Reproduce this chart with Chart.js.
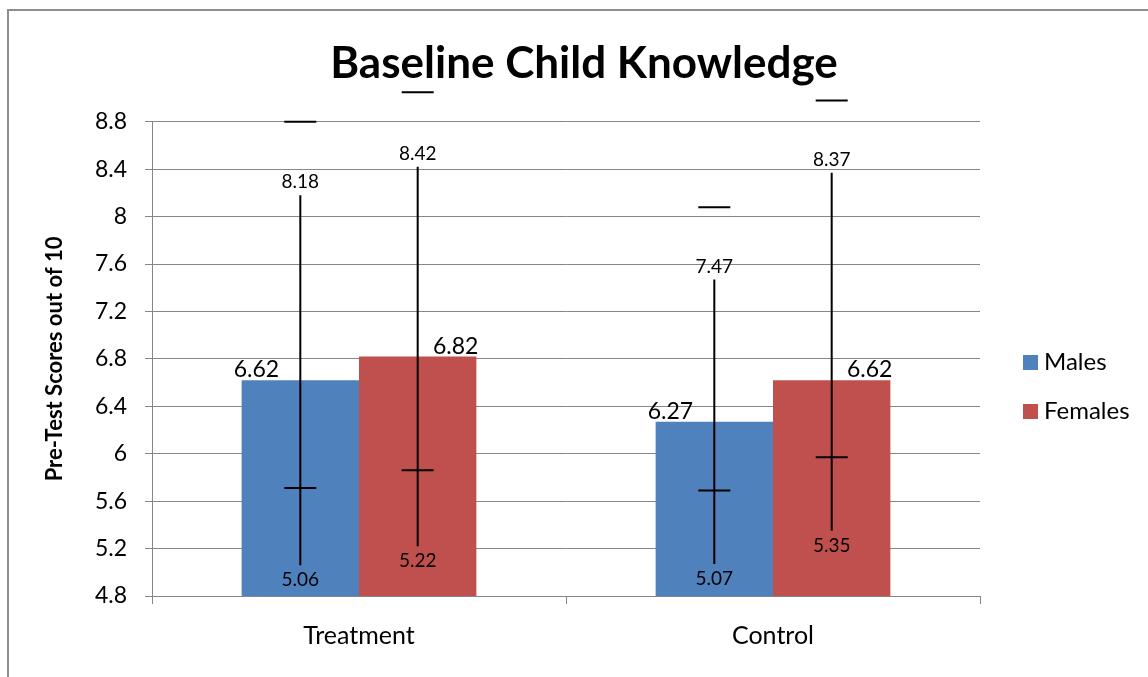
<!DOCTYPE html>
<html>
<head>
<meta charset="utf-8">
<title>Baseline Child Knowledge</title>
<script src="https://cdn.jsdelivr.net/npm/chart.js@4.4.1/dist/chart.umd.min.js"></script>
<style>
    html, body { margin: 0; padding: 0; background: #fff; overflow: hidden; }
    #frame {
        position: absolute; left: 7px; top: 9px; width: 1300px; height: 800px;
        border-left: 2px solid #8e8e8e; border-top: 2px solid #8e8e8e;
    }
    #wrap { position: absolute; left: 0; top: 0; width: 1168px; height: 700px; }
</style>
</head>
<body>
<div id="frame"></div>
<div id="wrap"><canvas id="chart"></canvas></div>
<script>
// Data
const categories = ['Treatment', 'Control'];
const seriesNames = ['Males', 'Females'];
const seriesColors = ['#4F81BD', '#C0504D'];

const maleMeans = [6.62, 6.27];
const femaleMeans = [6.82, 6.62];

// high / low range lines with their labels
const maleHigh = [8.18, 7.47];
const femaleHigh = [8.42, 8.37];
const maleLow = [5.06, 5.07];
const femaleLow = [5.22, 5.35];

// short horizontal marks (top dash and cross tick)
const maleCap = [8.8, 8.08];
const femaleCap = [9.05, 8.98];
const maleMid = [5.71, 5.69];
const femaleMid = [5.86, 5.97];

const yTicks = { min: 4.8, max: 8.8, step: 0.4 };

const FONT = 'Lato, "Open Sans", sans-serif';
const GRID = '#868686';

const ranges = [
    { high: maleHigh, low: maleLow, cap: maleCap, mid: maleMid },
    { high: femaleHigh, low: femaleLow, cap: femaleCap, mid: femaleMid }
];

/**
 * Range lines, value labels and legend
 */
const extrasPlugin = {
    id: 'extras',
    afterDatasetsDraw(chart) {
        const ctx = chart.ctx;
        const y = chart.scales.y;
        ctx.save();
        chart.data.datasets.forEach((ds, i) => {
            const meta = chart.getDatasetMeta(i);
            const r = ranges[i];
            meta.data.forEach((bar, j) => {
                const x = bar.x;
                const yHigh = y.getPixelForValue(r.high[j]);
                const yLow = y.getPixelForValue(r.low[j]);
                const yCap = y.getPixelForValue(r.cap[j]);
                const yMid = y.getPixelForValue(r.mid[j]);

                ctx.strokeStyle = '#000';
                ctx.lineWidth = 2;
                ctx.beginPath();
                ctx.moveTo(x, yHigh);
                ctx.lineTo(x, yLow);
                ctx.moveTo(x - 16, yCap);
                ctx.lineTo(x + 16, yCap);
                ctx.moveTo(x - 16, yMid);
                ctx.lineTo(x + 16, yMid);
                ctx.stroke();

                ctx.fillStyle = '#000';
                ctx.font = '19px ' + FONT;
                ctx.textAlign = 'center';
                ctx.textBaseline = 'middle';
                ctx.fillText(r.high[j].toFixed(2), x, yHigh - 13);
                ctx.fillText(r.low[j].toFixed(2), x, yLow + 15);

                // mean label above the bar
                ctx.font = '23px ' + FONT;
                ctx.textBaseline = 'alphabetic';
                const value = ds.data[j];
                if (i === 0) {
                    ctx.textAlign = 'left';
                    ctx.fillText(value.toFixed(2), bar.x - bar.width / 2 - 8, bar.y - 3);
                } else {
                    ctx.textAlign = 'right';
                    ctx.fillText(value.toFixed(2), bar.x + bar.width / 2 + 2, bar.y - 3);
                }
            });
        });
        ctx.restore();
    },
    afterDraw(chart) {
        const ctx = chart.ctx;
        ctx.save();
        chart.data.datasets.forEach((ds, i) => {
            const cy = 362 + i * 49;
            ctx.fillStyle = ds.backgroundColor;
            ctx.fillRect(1023, cy - 7, 15, 15);
            ctx.fillStyle = '#000';
            ctx.font = '24px ' + FONT;
            ctx.textAlign = 'left';
            ctx.textBaseline = 'middle';
            ctx.fillText(ds.label, 1044, cy);
        });
        ctx.restore();
    }
};

const ctx = document.getElementById('chart').getContext('2d');

new Chart(ctx, {
    type: 'bar',
    data: {
        labels: categories,
        datasets: [
            {
                label: seriesNames[0],
                data: maleMeans,
                backgroundColor: seriesColors[0],
                categoryPercentage: 0.567,
                barPercentage: 1
            },
            {
                label: seriesNames[1],
                data: femaleMeans,
                backgroundColor: seriesColors[1],
                categoryPercentage: 0.567,
                barPercentage: 1
            }
        ]
    },
    options: {
        responsive: true,
        maintainAspectRatio: false,
        animation: false,
        layout: { padding: 0 },
        plugins: {
            legend: { display: false },
            tooltip: { enabled: false },
            title: {
                display: true,
                text: 'Baseline Child Knowledge',
                color: '#000',
                font: { family: FONT, size: 44, weight: 'bold' },
                padding: { top: 37, bottom: 32 }
            }
        },
        scales: {
            x: {
                ticks: {
                    color: '#000',
                    font: { family: FONT, size: 25 },
                    padding: 17
                },
                grid: {
                    drawOnChartArea: false,
                    color: GRID,
                    tickLength: 8,
                    offset: true
                },
                border: { color: GRID, width: 1 },
                afterFit: s => { s.height = 104; }
            },
            y: {
                min: yTicks.min,
                max: yTicks.max,
                ticks: {
                    stepSize: yTicks.step,
                    color: '#000',
                    font: { family: FONT, size: 23 },
                    padding: 18,
                    callback: value => String(Number(value.toFixed(1)))
                },
                grid: { color: GRID, tickLength: 7 },
                border: { color: GRID, width: 1 },
                title: {
                    display: true,
                    text: 'Pre-Test Scores out of 10',
                    color: '#000',
                    font: { family: FONT, size: 22, weight: 'bold' },
                    padding: { top: 42, bottom: 0 }
                },
                afterFit: s => { s.width = 152; }
            },
            // empty right axis reserves room for the legend
            y2: {
                position: 'right',
                display: true,
                ticks: { display: false },
                grid: { display: false, drawTicks: false },
                border: { display: false },
                afterFit: s => { s.width = 188; }
            }
        }
    },
    plugins: [extrasPlugin]
});
</script>
</body>
</html>
